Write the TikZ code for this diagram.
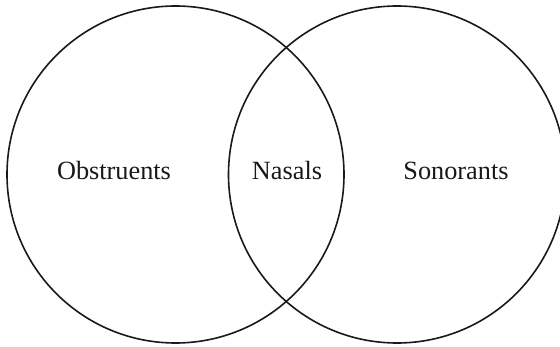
\documentclass[tikz,border=0pt]{standalone}
\usepackage{fontspec}
\setmainfont{Liberation Serif}
\begin{document}
\begin{tikzpicture}[x=1pt,y=1pt,
  ring/.style={draw=black!90, line width=1.6pt},
  lbl/.style={font=\fontsize{26.3}{30}\selectfont, text=black!90, anchor=base, inner sep=0pt}]
\useasboundingbox (0,0) rectangle (560,346);
\begin{scope}
\clip (0,0) rectangle (560,346);
\draw[ring] (175.5,171.5) circle (168.5);
\draw[ring] (397,171.5) circle (168.5);
\end{scope}
\node[lbl] (obs) at (114,167) {Obstruents};
\node[lbl] (nas) at (287,167) {Nasals};
\node[lbl] (son) at (456,167) {Sonorants};
\end{tikzpicture}
\end{document}
